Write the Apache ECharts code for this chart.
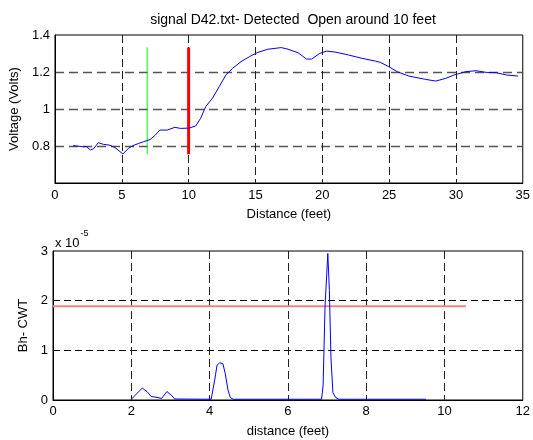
<!DOCTYPE html>
<html>
<head>
<meta charset="utf-8">
<script src="https://cdn.jsdelivr.net/npm/echarts@6/dist/echarts.min.js"></script>
<style>
  html, body { margin: 0; padding: 0; background: #fff; }
  #chart { width: 533px; height: 440px; }
</style>
</head>
<body>
<div id="chart"></div>
<script>
// Upper panel: raw voltage trace along the line
const distance = [1.36, 2.11, 2.36, 2.66, 2.91, 3.24, 3.62, 4.12, 4.5, 5.08, 5.5, 5.83, 6.26, 6.63, 7.14, 7.51, 7.84, 8.39, 8.97, 9.4, 10.03, 10.53, 10.9, 11.28, 11.78, 12.29, 12.79, 13.29, 13.92, 14.55, 15.18, 15.93, 16.93, 17.44, 18.19, 18.82, 19.2, 19.82, 20.33, 20.95, 21.96, 22.96, 23.97, 24.35, 24.97, 25.6, 26.48, 27.74, 28.49, 29.25, 29.87, 30.75, 31.51, 32.26, 33.02, 33.77, 34.65];
const voltage = [0.802, 0.796, 0.796, 0.778, 0.787, 0.818, 0.809, 0.804, 0.791, 0.757, 0.787, 0.802, 0.814, 0.823, 0.836, 0.859, 0.886, 0.886, 0.901, 0.895, 0.897, 0.908, 0.95, 1.013, 1.058, 1.121, 1.184, 1.22, 1.256, 1.283, 1.306, 1.323, 1.332, 1.323, 1.304, 1.27, 1.27, 1.301, 1.313, 1.308, 1.292, 1.274, 1.259, 1.252, 1.229, 1.202, 1.178, 1.16, 1.151, 1.166, 1.184, 1.202, 1.207, 1.198, 1.196, 1.184, 1.178];

// Marker positions (feet) and their vertical extent (volts)
const greenMark = 6.9;
const redMark = 10.0;
const markSpan = [0.755, 1.333];

// Lower panel: wavelet response (units of 1e-5)
const cwtDistance = [2.0, 2.13, 2.28, 2.4, 2.51, 2.68, 2.77, 2.91, 3.02, 3.11, 4.04, 4.13, 4.19, 4.26, 4.34, 4.4, 4.47, 4.53, 4.6, 6.86, 6.9, 6.95, 7.02, 7.06, 7.1, 7.15, 7.22, 7.3, 9.53];
const cwtValue = [0.015, 0.12, 0.24, 0.17, 0.07, 0.05, 0.03, 0.17, 0.1, 0.02, 0.015, 0.4, 0.7, 0.75, 0.73, 0.53, 0.2, 0.05, 0.015, 0.015, 0.3, 1.9, 2.95, 2.2, 0.86, 0.15, 0.05, 0.015, 0.015];

// Detection threshold line
const threshold = 1.89;
const thresholdSpan = [0, 10.55];

const topTicks = { min: 0, max: 35, step: 5 };
const voltTicks = { min: 0.6, max: 1.4, step: 0.2 };
const botTicks = { min: 0, max: 12, step: 2 };
const cwtTicks = { min: 0, max: 3, step: 1 };

const FONT = 'Liberation Sans, Arial, sans-serif';
const FS = 13;

function pairs(xs, ys) { return xs.map((x, i) => [x, ys[i]]); }

const labelStyle = { color: '#000', fontFamily: FONT, fontSize: FS };

function xAx(gridIndex, t, name, margin, gap) {
  return {
    type: 'value', gridIndex, min: t.min, max: t.max, interval: t.step,
    name, nameLocation: 'middle', nameGap: gap,
    nameTextStyle: { color: '#000', fontFamily: FONT, fontSize: FS },
    axisLine: { show: true, lineStyle: { color: '#000', width: 1 } },
    axisTick: { show: false },
    axisLabel: Object.assign({ margin }, labelStyle),
    splitLine: { show: true, showMinLine: false, showMaxLine: false,
      lineStyle: { color: '#222', width: 1, type: [8, 4] } }
  };
}

function yAx(gridIndex, t, name, gap, fmt, dash, col, w) {
  return {
    type: 'value', gridIndex, min: t.min, max: t.max, interval: t.step,
    name, nameLocation: 'middle', nameGap: gap, nameRotate: 90,
    nameTextStyle: { color: '#000', fontFamily: FONT, fontSize: FS },
    axisLine: { show: true, lineStyle: { color: '#000', width: 1 } },
    axisTick: { show: false },
    axisLabel: Object.assign({ margin: 5, formatter: fmt }, labelStyle),
    splitLine: { show: true, showMinLine: false, showMaxLine: false,
      lineStyle: { color: col, width: w, type: dash } }
  };
}

const chart = echarts.init(document.getElementById('chart'), null, { renderer: 'canvas' });

chart.setOption({
  animation: false,
  backgroundColor: '#fff',
  title: {
    text: 'signal D42.txt- Detected  Open around 10 feet',
    left: 288, top: 8, textAlign: 'center',
    textStyle: { color: '#000', fontFamily: FONT, fontSize: 14, fontWeight: 'normal' }
  },
  grid: [
    { left: 53, top: 35, width: 471, height: 148, show: true, borderColor: '#000', borderWidth: 1, backgroundColor: 'transparent' },
    { left: 53, top: 251, width: 471, height: 149, show: true, borderColor: '#000', borderWidth: 1, backgroundColor: 'transparent' }
  ],
  xAxis: [
    xAx(0, topTicks, 'Distance (feet)', 6, 25),
    xAx(1, botTicks, 'distance (feet)', 5, 25)
  ],
  yAxis: [
    yAx(0, voltTicks, 'Voltage (Volts)', 33, v => (Math.abs(v - 0.6) < 1e-9 ? '' : String(+v.toFixed(1))), [9, 5], '#555', 1.3),
    yAx(1, cwtTicks, 'Bh- CWT', 21, v => String(v), [7, 4], '#000', 1)
  ],
  graphic: [
    {
      type: 'text', left: 55, top: 229,
      style: {
        text: '{a|x 10}{b|-5}',
        rich: {
          a: { fontFamily: FONT, fontSize: FS, fill: '#000', verticalAlign: 'bottom', padding: [8, 0, 0, 0] },
          b: { fontFamily: FONT, fontSize: 9, fill: '#000', verticalAlign: 'top', padding: [0, 0, 7, 1] }
        }
      }
    }
  ],
  series: [
    {
      type: 'line', xAxisIndex: 0, yAxisIndex: 0, data: pairs(distance, voltage),
      showSymbol: false, lineStyle: { color: '#0000ff', width: 1 }, z: 5
    },
    {
      type: 'line', xAxisIndex: 0, yAxisIndex: 0,
      data: [[greenMark, markSpan[0]], [greenMark, markSpan[1]]],
      showSymbol: false, lineStyle: { color: '#00ff00', width: 1 }, z: 4
    },
    {
      type: 'line', xAxisIndex: 0, yAxisIndex: 0,
      data: [[redMark, markSpan[0]], [redMark, markSpan[1]]],
      showSymbol: false, lineStyle: { color: '#ff0000', width: 3 }, z: 4
    },
    {
      type: 'line', xAxisIndex: 1, yAxisIndex: 1,
      data: [[thresholdSpan[0], threshold], [thresholdSpan[1], threshold]],
      showSymbol: false, lineStyle: { color: '#ff8080', width: 2 }, z: 4
    },
    {
      type: 'line', xAxisIndex: 1, yAxisIndex: 1, data: pairs(cwtDistance, cwtValue),
      showSymbol: false, lineStyle: { color: '#0000ff', width: 1 }, z: 5
    }
  ]
});
</script>
</body>
</html>
